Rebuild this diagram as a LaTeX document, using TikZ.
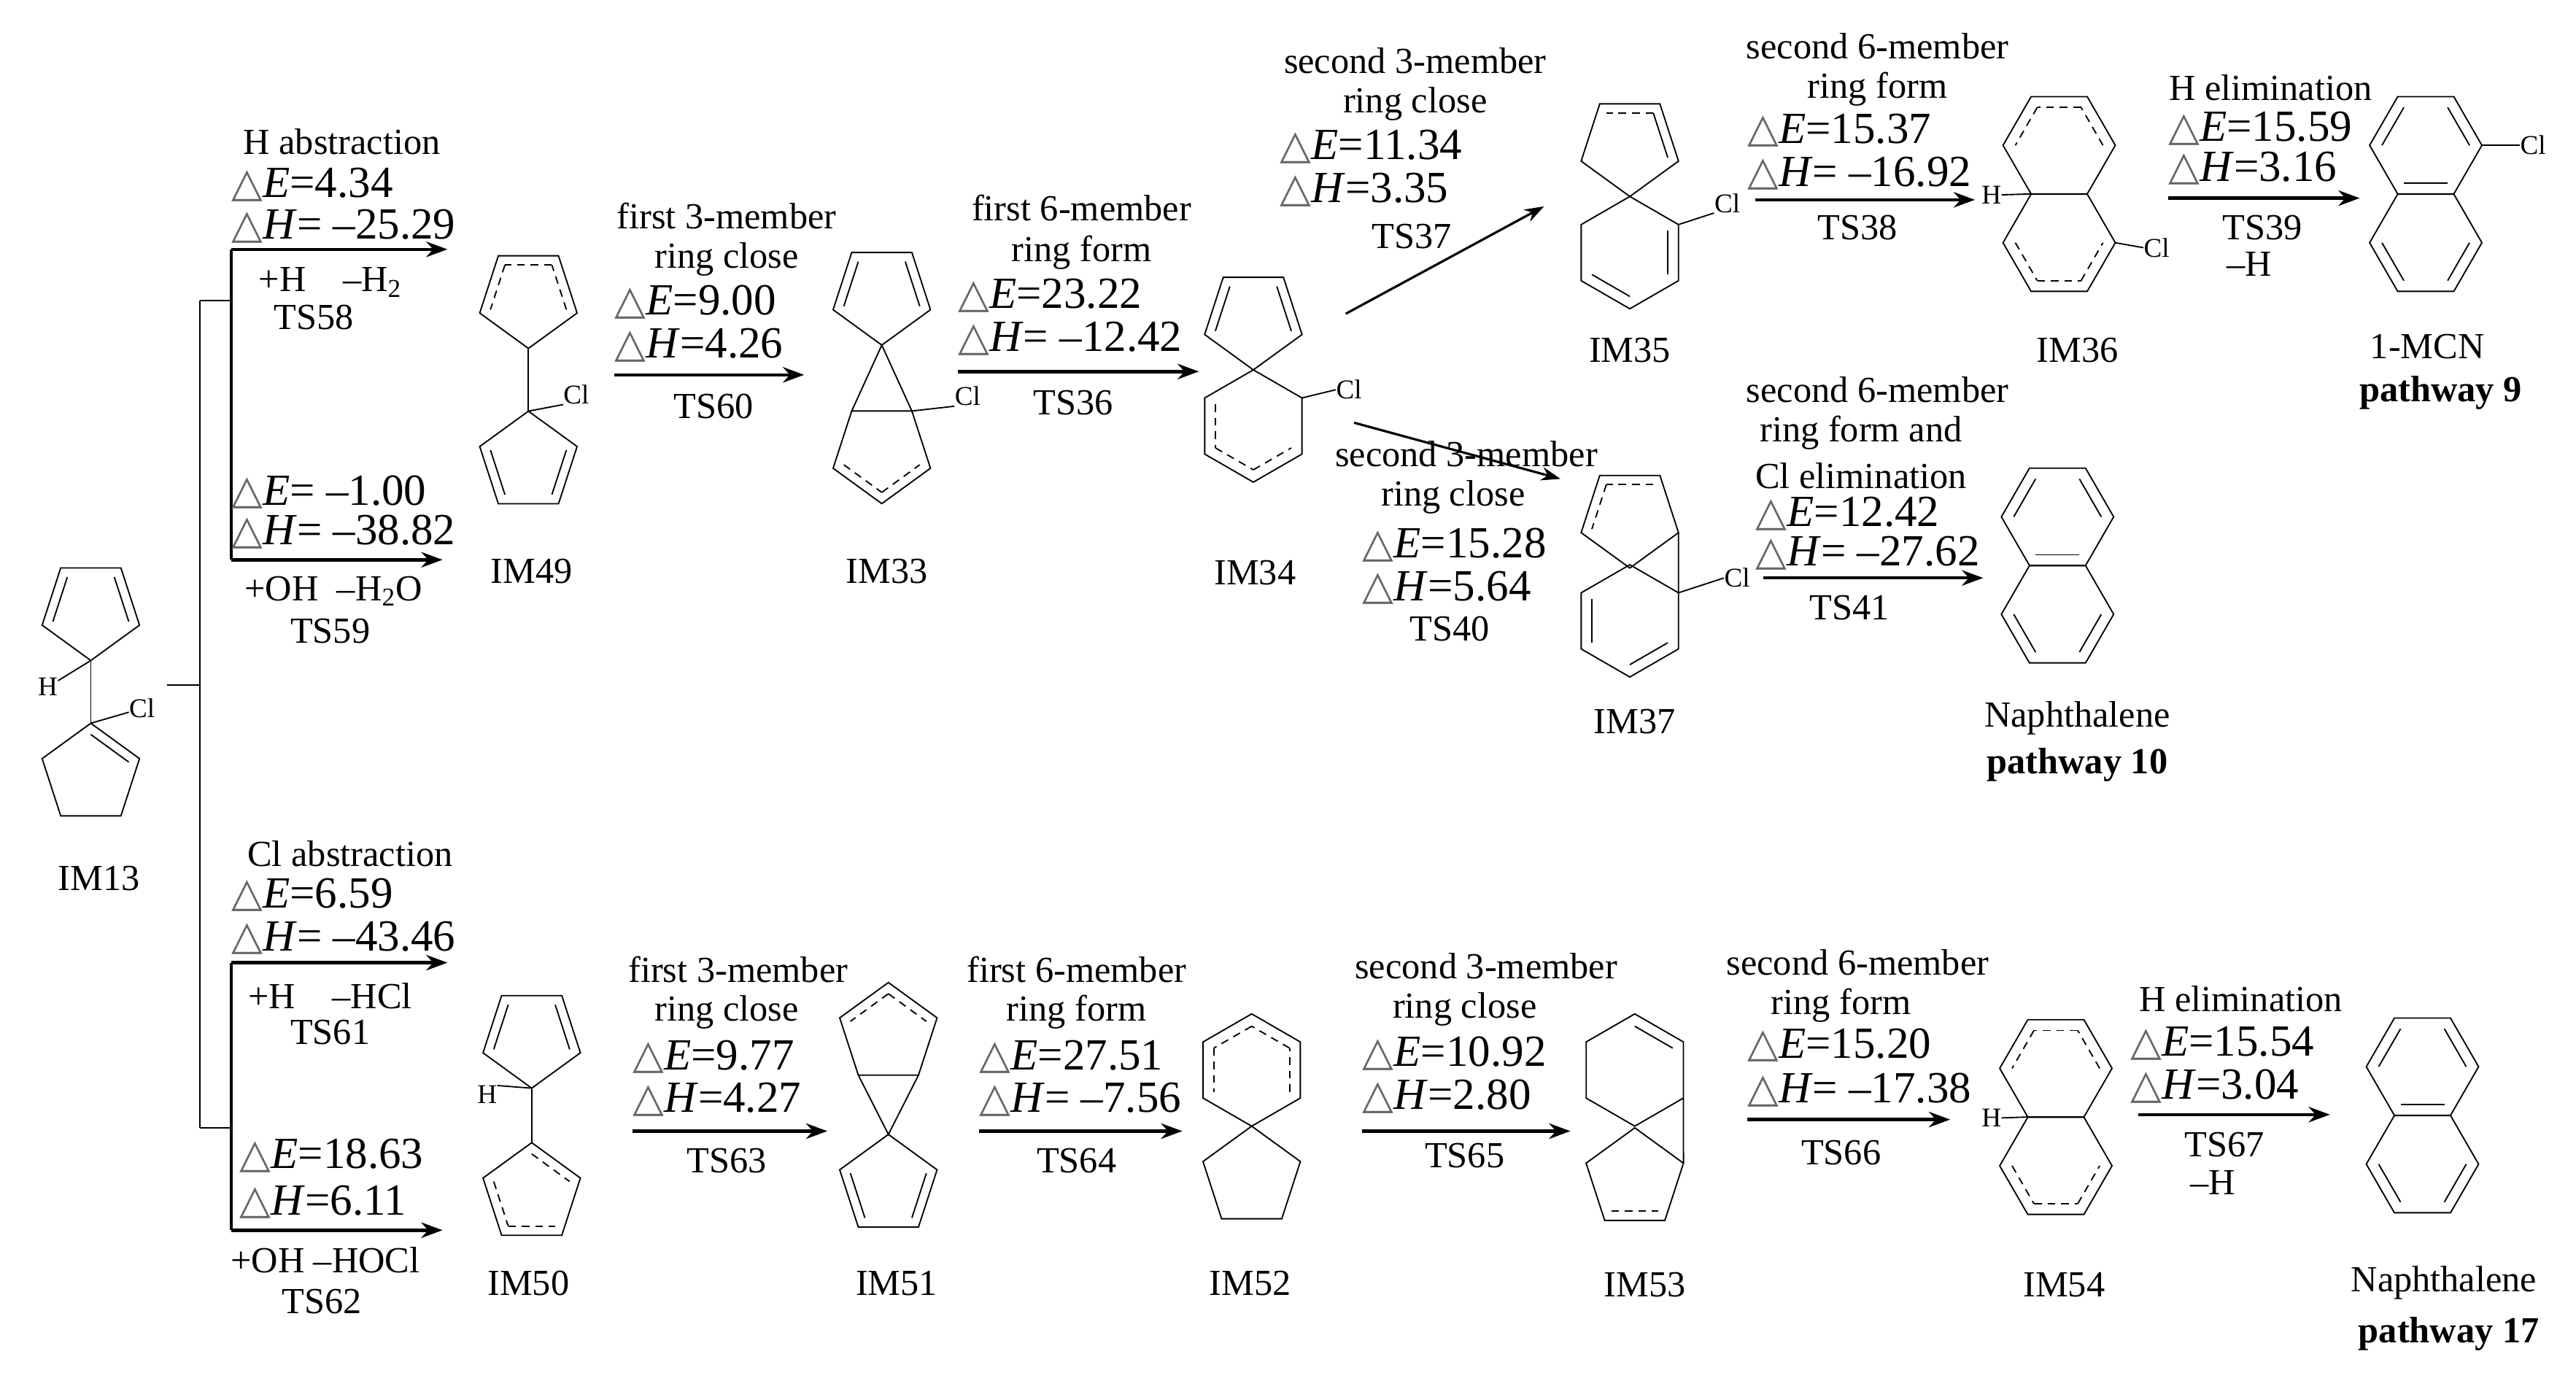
\documentclass[tikz,border=0pt]{standalone}
\usepackage{fontspec}
\setmainfont{Liberation Serif}
\newfontfamily\dvfont{DejaVu Sans}
\usetikzlibrary{calc,arrows.meta}
\newcommand\tri{\raisebox{0.5pt}{\dvfont\color{black!60}\fontsize{21}{21}\selectfont △}}
\newcommand\dE[1]{\tri\textit{E}=#1}
\newcommand\dH[1]{\tri\textit{H}=#1}
% rings: name, x, y(down)
\newcommand\pentD[3]{\coordinate (#1) at (#2,{-(#3)});
 \foreach \i in {0,...,4}{\coordinate (#1\i) at ($(#1)+({-90+72*\i}:31)$);}
 \draw[bond] (#10)--(#11)--(#12)--(#13)--(#14)--cycle;}
\newcommand\pentU[3]{\coordinate (#1) at (#2,{-(#3)});
 \foreach \i in {0,...,4}{\coordinate (#1\i) at ($(#1)+({90+72*\i}:31)$);}
 \draw[bond] (#10)--(#11)--(#12)--(#13)--(#14)--cycle;}
\newcommand\hexP[3]{\coordinate (#1) at (#2,{-(#3)});
 \foreach \i in {0,...,5}{\coordinate (#1\i) at ($(#1)+({90+60*\i}:34)$);}
 \draw[bond] (#10)--(#11)--(#12)--(#13)--(#14)--(#15)--cycle;}
\newcommand\hexF[3]{\coordinate (#1) at (#2,{-(#3)});
 \foreach \i in {0,...,5}{\coordinate (#1\i) at ($(#1)+({60*\i}:34)$);}
 \draw[bond] (#10)--(#11)--(#12)--(#13)--(#14)--(#15)--cycle;}
\newcommand\dbl[4][]{\draw[bond,#1] ($(#2)!0.78!(#2#3)$) -- ($(#2)!0.78!(#2#4)$);}
\newcommand\naph[3]{\hexF{#1a}{#2}{#3}\hexF{#1b}{#2}{#3+59}
 \dbl{#1a}{2}{3}\dbl{#1a}{0}{1}\dbl{#1a}{4}{5}\dbl{#1b}{3}{4}\dbl{#1b}{5}{0}}
\begin{document}
\begin{tikzpicture}[x=0.03cm,y=0.03cm,
 bond/.style={line width=0.7pt},
 dsh/.style={dash pattern=on 4pt off 3pt},
 arr/.style={line width=1.7pt,-{Stealth[length=11pt,width=8pt]}},
 thick line/.style={line width=1.7pt},
 lab/.style={font=\fontsize{19}{22}\selectfont,inner sep=0pt},
 big/.style={font=\fontsize{23}{26}\selectfont,anchor=west,inner sep=0pt},
 atom/.style={font=\fontsize{14}{15}\selectfont,inner sep=0pt},
 bf/.style={font=\fontsize{19}{22}\selectfont\bfseries,inner sep=0pt}]
\useasboundingbox (0,0) rectangle (1560,-836.3);

% ---------- IM13 ----------
\pentD{ia}{55}{369}\dbl{ia}{3}{4}\dbl{ia}{1}{2}
\pentU{ib}{55}{469}\dbl{ib}{0}{4}
\draw[bond] (ia0)--(ib0);
\node[atom] (h13) at (29,-416) {H};
\node[atom] (cl13) at (86,-429) {Cl};
\draw[bond] (ia0)--(h13);
\draw[bond] (ib0)--(cl13);
\node[lab] (im13) at (60,-532) {IM13};

% ---------- bracket ----------
\coordinate (bk0) at (101,-415);
\coordinate (bk1) at (121,-415);
\coordinate (bkt) at (121,-182);
\coordinate (bkb) at (121,-683);
\coordinate (bkt2) at (140,-182);
\coordinate (bkb2) at (140,-683);
\draw[bond] (bk0)--(bk1);
\draw[bond] (bkt)--(bkb);
\draw[bond] (bkt)--(bkt2);
\draw[bond] (bkb)--(bkb2);

% top branch
\coordinate (ta) at (140,-151);
\coordinate (tb) at (140,-339);
\coordinate (tae) at (271,-151);
\coordinate (tbe) at (268,-339);
\draw[thick line] (ta)--(tb);
\draw[arr] (ta)--(tae);
\draw[arr] (tb)--(tbe);
\node[lab] (t58a) at (207,-86) {H abstraction};
\node[big] (t58b) at (140,-112) {\dE{4.34}};
\node[big] (t58c) at (140,-137) {\dH{ –25.29}};
\node[lab] (t58d) at (200,-171) {+H\quad –H\textsubscript{2}};
\node[lab] (t58e) at (190,-192) {TS58};
\node[big] (t59b) at (140,-298) {\dE{ –1.00}};
\node[big] (t59c) at (140,-322) {\dH{ –38.82}};
\node[lab] (t59d) at (202,-358) {+OH\ \ –H\textsubscript{2}O};
\node[lab] (t59e) at (200,-382) {TS59};

% IM49
\pentD{a}{320}{180}\dbl[dsh]{a}{2}{3}\dbl[dsh]{a}{3}{4}\dbl[dsh]{a}{1}{2}
\pentU{b}{320}{280}\dbl{b}{1}{2}\dbl{b}{3}{4}
\draw[bond] (a0)--(b0);
\node[atom] (cl49) at (349,-239) {Cl};
\draw[bond] (b0)--(cl49.south west);
\node[lab] (im49) at (322,-346) {IM49};

% TS60
\coordinate (s60) at (372,-227);
\coordinate (e60) at (487,-227);
\draw[arr] (s60)--(e60);
\node[lab] (t60a) at (440,-131) {first 3-member};
\node[lab] (t60b) at (440,-157) {ring close};
\node[big] (t60c) at (372,-183) {\dE{9.00}};
\node[big] (t60d) at (372,-209) {\dH{4.26}};
\node[lab] (t60e) at (432,-246) {TS60};

% IM33
\pentD{c}{534}{178}\dbl{c}{3}{4}\dbl{c}{1}{2}
\pentD{d}{534}{274}\dbl[dsh]{d}{4}{0}\dbl[dsh]{d}{0}{1}
\draw[bond] (d3)--(c0)--(d2);
\node[atom] (cl33) at (586,-240) {Cl};
\draw[bond] (d2)--(cl33.south west);
\node[lab] (im33) at (537,-346) {IM33};

% TS36
\coordinate (s36) at (580,-225);
\coordinate (e36) at (726,-225);
\draw[arr] (s36)--(e36);
\node[lab] (t36a) at (655,-126) {first 6-member};
\node[lab] (t36b) at (655,-153) {ring form};
\node[big] (t36c) at (580,-179) {\dE{23.22}};
\node[big] (t36d) at (580,-205) {\dH{ –12.42}};
\node[lab] (t36e) at (650,-244) {TS36};

% IM34
\pentD{e}{759}{193}\dbl{e}{3}{4}\dbl{e}{1}{2}
\hexP{f}{759}{258}\dbl[dsh]{f}{1}{2}\dbl[dsh]{f}{2}{3}\dbl[dsh]{f}{3}{4}
\node[atom] (cl34) at (817,-236) {Cl};
\draw[bond] (f5)--(cl34.west);
\node[lab] (im34) at (760,-347) {IM34};

% TS37 / TS40
\coordinate (s37) at (815,-190);
\coordinate (e37) at (935,-125);
\draw[line width=1.2pt,-{Stealth[length=10pt,width=7pt]}] (s37)--(e37);
\coordinate (s40) at (820,-256);
\coordinate (e40) at (945,-290);
\draw[line width=1.2pt,-{Stealth[length=10pt,width=7pt]}] (s40)--(e40);
\node[lab] (t37a) at (857,-37) {second 3-member};
\node[lab] (t37b) at (857,-63) {ring close};
\node[big] (t37c) at (775,-89) {\dE{11.34}};
\node[big] (t37d) at (775,-115) {\dH{3.35}};
\node[lab] (t37e) at (855,-143) {TS37};
\node[lab] (t40a) at (888,-275) {second 3-member};
\node[lab] (t40b) at (880,-301) {ring close};
\node[big] (t40c) at (825,-330) {\dE{15.28}};
\node[big] (t40d) at (825,-356) {\dH{5.64}};
\node[lab] (t40e) at (878,-381) {TS40};

% IM35
\pentD{g}{987}{88}\dbl[dsh]{g}{2}{3}\dbl{g}{1}{2}
\hexP{h}{987}{153}\dbl{h}{4}{5}\dbl{h}{2}{3}
\node[atom] (cl35) at (1046,-123) {Cl};
\draw[bond] (h5)--(cl35.south west);
\node[lab] (im35) at (987,-212) {IM35};

% IM37
\pentD{k}{987}{313}\dbl[dsh]{k}{2}{3}\dbl[dsh]{k}{3}{4}
\hexP{m}{987}{376}\dbl{m}{1}{2}\dbl{m}{3}{4}
\draw[bond] (k1)--(m5);
\node[atom] (cl37) at (1052,-350) {Cl};
\draw[bond] (m5)--(cl37.west);
\node[lab] (im37) at (990,-437) {IM37};

% TS38
\coordinate (s38) at (1063,-121);
\coordinate (e38) at (1196,-121);
\draw[arr] (s38)--(e38);
\node[lab] (t38a) at (1137,-28) {second 6-member};
\node[lab] (t38b) at (1137,-54) {ring form};
\node[big] (t38c) at (1058,-79) {\dE{15.37}};
\node[big] (t38d) at (1058,-105) {\dH{ –16.92}};
\node[lab] (t38e) at (1125,-138) {TS38};

% TS41
\coordinate (s41) at (1068,-350);
\coordinate (e41) at (1201,-350);
\draw[arr] (s41)--(e41);
\node[lab] (t41a) at (1137,-236) {second 6-member};
\node[lab] (t41b) at (1127,-262) {ring form and};
\node[lab] (t41c) at (1127,-288) {Cl elimination};
\node[big] (t41d) at (1063,-311) {\dE{12.42}};
\node[big] (t41e) at (1063,-335) {\dH{ –27.62}};
\node[lab] (t41f) at (1120,-368) {TS41};

% IM36
\hexF{na}{1247}{88}\hexF{nb}{1247}{147}
\dbl[dsh]{na}{1}{2}\dbl[dsh]{na}{2}{3}\dbl[dsh]{na}{0}{1}
\dbl[dsh]{nb}{3}{4}\dbl[dsh]{nb}{4}{5}\dbl[dsh]{nb}{5}{0}
\node[atom] (h36) at (1206,-118) {H};
\draw[bond] (na4)--(h36.east);
\node[atom] (cl36) at (1306,-150) {Cl};
\draw[bond] (nb0)--(cl36.west);
\node[lab] (im36) at (1258,-212) {IM36};

% TS39
\coordinate (s39) at (1313,-120);
\coordinate (e39) at (1429,-120);
\draw[arr] (s39)--(e39);
\node[lab] (t39a) at (1375,-53) {H elimination};
\node[big] (t39b) at (1313,-78) {\dE{15.59}};
\node[big] (t39c) at (1313,-102) {\dH{3.16}};
\node[lab] (t39d) at (1370,-138) {TS39};
\node[lab] (t39e) at (1362,-160) {–H};

% 1-MCN
\naph{p}{1469}{88}
\node[atom] (clm) at (1534,-88) {Cl};
\draw[bond] (pa0)--(clm.west);
\node[lab] (mcn) at (1470,-210) {1-MCN};
\node[bf] (pw9) at (1478,-238) {pathway 9};

% Naphthalene (pathway 10)
\naph{q}{1246}{313}
\node[lab] (nap10) at (1258,-435) {Naphthalene};
\node[bf] (pw10) at (1258,-463) {pathway 10};

% ---------- bottom branch ----------
\coordinate (ba) at (140,-583);
\coordinate (bb) at (140,-745);
\coordinate (bae) at (271,-583);
\coordinate (bbe) at (268,-745);
\draw[thick line] (ba)--(bb);
\draw[arr] (ba)--(bae);
\draw[arr] (bb)--(bbe);
\node[lab] (t61a) at (212,-517) {Cl abstraction};
\node[big] (t61b) at (140,-542) {\dE{6.59}};
\node[big] (t61c) at (140,-568) {\dH{ –43.46}};
\node[lab] (t61d) at (200,-603) {+H\quad –HCl};
\node[lab] (t61e) at (200,-625) {TS61};
\node[big] (t62b) at (145,-700) {\dE{18.63}};
\node[big] (t62c) at (145,-728) {\dH{6.11}};
\node[lab] (t62d) at (197,-763) {+OH –HOCl};
\node[lab] (t62e) at (195,-788) {TS62};

% IM50
\pentD{r}{322}{628}\dbl{r}{3}{4}\dbl{r}{1}{2}
\pentU{s}{322}{723}\dbl[dsh]{s}{1}{2}\dbl[dsh]{s}{2}{3}\dbl[dsh]{s}{0}{4}
\draw[bond] (r0)--(s0);
\node[atom] (h50) at (295,-663) {H};
\draw[bond] (r0)--(h50.north east);
\node[lab] (im50) at (320,-777) {IM50};

% TS63
\coordinate (s63) at (383,-685);
\coordinate (e63) at (501,-685);
\draw[arr] (s63)--(e63);
\node[lab] (t63a) at (447,-587) {first 3-member};
\node[lab] (t63b) at (440,-613) {ring close};
\node[big] (t63c) at (383,-640) {\dE{9.77}};
\node[big] (t63d) at (383,-666) {\dH{4.27}};
\node[lab] (t63e) at (440,-703) {TS63};

% IM51
\pentU{u}{538}{626}\dbl[dsh]{u}{0}{1}\dbl[dsh]{u}{0}{4}
\pentU{v}{538}{718}\dbl{v}{1}{2}\dbl{v}{3}{4}
\draw[bond] (u2)--(v0)--(u3);
\node[lab] (im51) at (543,-777) {IM51};

% TS64
\coordinate (s64) at (593,-685);
\coordinate (e64) at (716,-685);
\draw[arr] (s64)--(e64);
\node[lab] (t64a) at (652,-587) {first 6-member};
\node[lab] (t64b) at (652,-613) {ring form};
\node[big] (t64c) at (593,-640) {\dE{27.51}};
\node[big] (t64d) at (593,-666) {\dH{ –7.56}};
\node[lab] (t64e) at (652,-703) {TS64};

% IM52
\hexP{w}{758}{648}\dbl[dsh]{w}{0}{1}\dbl[dsh]{w}{1}{2}\dbl[dsh]{w}{4}{5}\dbl[dsh]{w}{5}{0}
\pentU{x}{758}{713}
\node[lab] (im52) at (757,-777) {IM52};

% TS65
\coordinate (s65) at (825,-685);
\coordinate (e65) at (951,-685);
\draw[arr] (s65)--(e65);
\node[lab] (t65a) at (900,-585) {second 3-member};
\node[lab] (t65b) at (887,-611) {ring close};
\node[big] (t65c) at (825,-638) {\dE{10.92}};
\node[big] (t65d) at (825,-664) {\dH{2.80}};
\node[lab] (t65e) at (887,-700) {TS65};

% IM53
\hexP{y}{990}{648}\dbl{y}{5}{0}
\pentU{z}{990}{714}\dbl[dsh]{z}{2}{3}
\draw[bond] (y4)--(z4);
\node[lab] (im53) at (996,-778) {IM53};

% TS66
\coordinate (s66) at (1058,-678);
\coordinate (e66) at (1181,-678);
\draw[arr] (s66)--(e66);
\node[lab] (t66a) at (1125,-583) {second 6-member};
\node[lab] (t66b) at (1115,-609) {ring form};
\node[big] (t66c) at (1058,-633) {\dE{15.20}};
\node[big] (t66d) at (1058,-660) {\dH{ –17.38}};
\node[lab] (t66e) at (1115,-698) {TS66};

% IM54
\hexF{oa}{1245}{647}\hexF{ob}{1245}{706}
\dbl[dsh]{oa}{1}{2}\dbl[dsh]{oa}{2}{3}\dbl[dsh]{oa}{0}{1}
\dbl[dsh]{ob}{3}{4}\dbl[dsh]{ob}{4}{5}\dbl[dsh]{ob}{5}{0}
\node[atom] (h54) at (1206,-677) {H};
\draw[bond] (oa4)--(h54.east);
\node[lab] (im54) at (1250,-778) {IM54};

% TS67
\coordinate (s67) at (1295,-675);
\coordinate (e67) at (1411,-675);
\draw[arr] (s67)--(e67);
\node[lab] (t67a) at (1357,-605) {H elimination};
\node[big] (t67b) at (1290,-632) {\dE{15.54}};
\node[big] (t67c) at (1290,-658) {\dH{3.04}};
\node[lab] (t67d) at (1347,-693) {TS67};
\node[lab] (t67e) at (1340,-716) {–H};

% Naphthalene (pathway 17)
\naph{t}{1467}{646}
\node[lab] (nap17) at (1480,-777) {Naphthalene};
\node[bf] (pw17) at (1483,-808) {pathway 17};
\end{tikzpicture}
\end{document}
